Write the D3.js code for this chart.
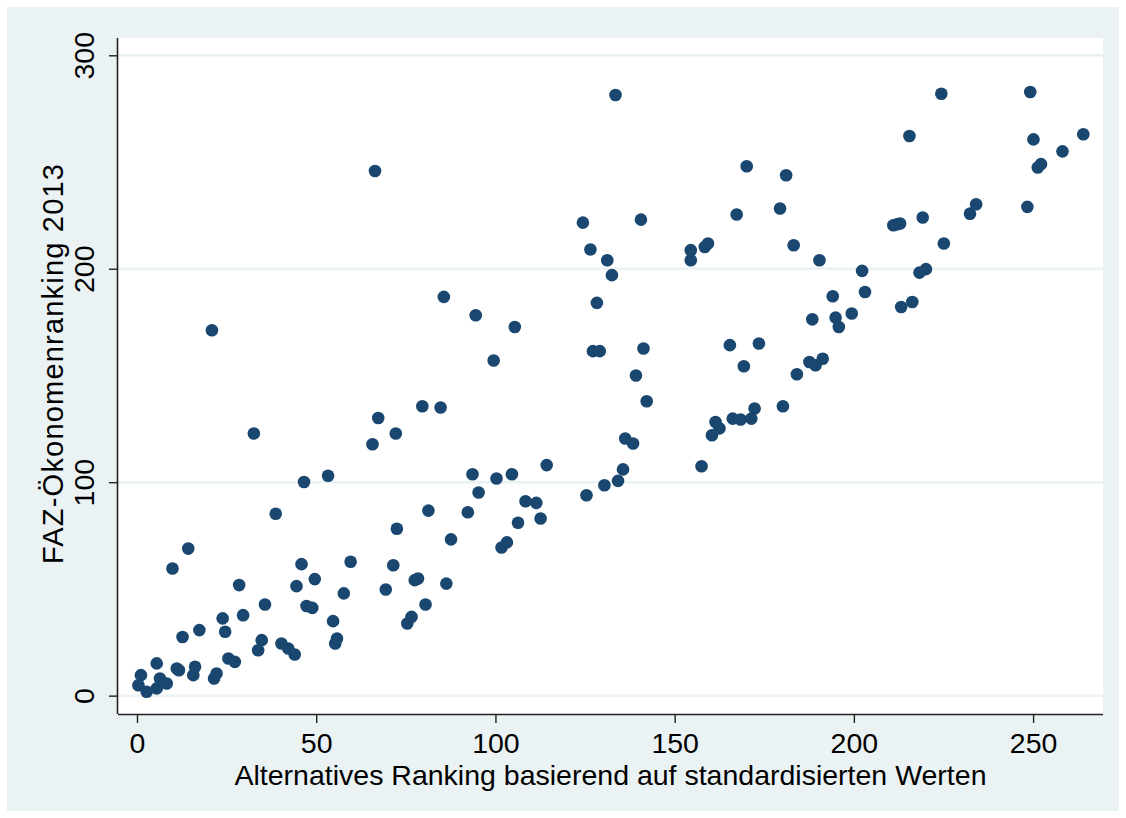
<!DOCTYPE html>
<html>
<head>
<meta charset="utf-8">
<script src="https://cdn.jsdelivr.net/npm/d3@7"></script>
<style>
  html, body { margin: 0; padding: 0; background: #ffffff; }
  svg text { font-family: "Liberation Sans", Arial, sans-serif; fill: #000; }
</style>
</head>
<body>
<div id="chart"></div>
<script>
// --- Scatter: alternative ranking vs FAZ ranking ---

// alternative ranking (x) and FAZ-Ökonomenranking 2013 (y)
const altRank = [
  0.4, 1.1, 2.7, 5.5, 6.4, 8.3, 5.5, 11.1, 11.7, 16.2, 15.7, 22.2, 21.5, 9.9, 12.7, 14.3,
  17.4, 23.9, 24.6, 25.5, 27.3, 28.5, 29.6, 20.9, 32.6, 34.8, 33.8, 35.7, 38.7, 40.3, 42.2,
  44.0, 44.5, 45.9, 46.6, 47.3, 48.9, 49.6, 53.3, 54.7, 55.8, 55.3, 57.7, 59.6, 65.7, 66.4,
  67.3, 69.4, 71.5, 72.2, 72.5, 75.4, 76.6, 77.5, 78.4, 79.6, 80.5, 81.3, 84.7, 85.6, 86.3,
  87.6, 92.3, 93.6, 94.5, 95.3, 99.5, 100.3, 101.7, 103.2, 104.6, 105.4, 106.3, 108.4, 111.4,
  112.6, 114.3, 124.4, 125.4, 126.5, 127.2, 129.1, 128.3, 130.4, 131.2, 132.5, 133.5, 134.2,
  135.6, 136.2, 138.4, 139.2, 140.6, 141.3, 142.2, 154.5, 154.5, 157.5, 158.4, 159.3, 160.4,
  161.4, 162.5, 165.4, 166.2, 167.3, 168.4, 169.3, 170.1, 171.4, 172.3, 173.5, 179.4, 180.2,
  181.1, 183.2, 184.1, 187.6, 189.3, 191.3, 188.4, 190.4, 194.1, 194.9, 195.8, 199.4, 202.3,
  203.1, 211.0, 212.0, 212.9, 213.2, 215.5, 216.3, 218.3, 219.2, 220.1, 224.4, 225.1, 232.4,
  234.1, 248.4, 249.2, 250.1, 251.3, 252.2, 258.2, 264.0
];
const fazRank = [
  4.9, 9.6, 1.8, 3.4, 8.0, 5.7, 15.1, 12.7, 11.9, 13.5, 9.6, 10.4, 8.0, 59.6, 27.5, 68.9,
  30.7, 36.2, 29.9, 17.4, 15.8, 51.8, 37.7, 171.2, 122.8, 26.0, 21.3, 42.7, 85.2, 24.4, 22.1,
  19.3, 51.3, 61.6, 100.1, 42.0, 41.1, 54.6, 103.0, 34.9, 26.8, 24.4, 47.9, 62.7, 117.8, 245.8,
  130.1, 49.7, 61.1, 122.8, 78.2, 33.8, 36.9, 54.1, 54.9, 135.6, 42.7, 86.7, 135.0, 186.8, 52.5,
  73.2, 85.9, 103.7, 178.2, 95.2, 157.0, 101.7, 69.4, 71.8, 103.7, 172.7, 81.0, 91.1, 90.3,
  83.0, 108.0, 221.6, 93.9, 209.0, 161.4, 161.4, 184.0, 98.6, 204.0, 197.0, 281.4, 100.6,
  106.0, 120.5, 118.1, 150.0, 223.0, 162.6, 137.9, 208.7, 204.0, 107.5, 210.2, 211.8, 122.0,
  128.2, 125.2, 164.2, 129.8, 225.4, 129.4, 154.3, 248.0, 129.8, 134.5, 165.0, 228.2, 135.6,
  243.8, 211.0, 150.6, 156.3, 154.8, 157.8, 176.3, 204.0, 187.1, 177.1, 172.7, 179.0, 199.0,
  189.1, 220.4, 220.8, 221.2, 182.1, 262.2, 184.4, 198.2, 224.0, 199.8, 282.0, 211.8, 225.8,
  230.2, 229.0, 282.8, 260.6, 247.4, 249.0, 255.0, 263.0
];

const xTicks = [0, 50, 100, 150, 200, 250];
const yTicks = [0, 100, 200, 300];
const xTitle = "Alternatives Ranking basierend auf standardisierten Werten";
const yTitle = "FAZ-Ökonomenranking 2013";

(function () {
    const W = 1126, H = 818;
    const plot = { left: 118, right: 1103, top: 38, bottom: 714 };
    const markerColor = "#1a476f";
    const bgColor = "#eaf2f3";

    const points = altRank.map((x, i) => ({ x: x, y: fazRank[i] }));

    const svg = d3.select("#chart").append("svg")
        .attr("width", W)
        .attr("height", H);

    // outer graph region
    svg.append("rect")
        .attr("x", 7).attr("y", 7)
        .attr("width", W - 14).attr("height", H - 14)
        .attr("fill", bgColor);

    // plot region
    svg.append("rect")
        .attr("x", plot.left).attr("y", plot.top)
        .attr("width", plot.right - plot.left).attr("height", plot.bottom - plot.top)
        .attr("fill", "#ffffff");

    const x = d3.scaleLinear().domain([-5.3, 269.5]).range([plot.left, plot.right]);
    const y = d3.scaleLinear().domain([-8.6, 308.1]).range([plot.bottom, plot.top]);

    // horizontal grid lines
    svg.append("g")
        .selectAll("line")
        .data(yTicks)
        .join("line")
        .attr("x1", plot.left).attr("x2", plot.right)
        .attr("y1", d => y(d)).attr("y2", d => y(d))
        .attr("stroke", bgColor)
        .attr("stroke-width", 2.5);

    // points
    svg.append("g")
        .selectAll("circle")
        .data(points)
        .join("circle")
        .attr("cx", d => x(d.x))
        .attr("cy", d => y(d.y))
        .attr("r", 6.3)
        .attr("fill", markerColor);

    // x axis
    const xAxis = svg.append("g")
        .attr("transform", `translate(0,${plot.bottom})`)
        .call(d3.axisBottom(x).tickValues(xTicks).tickSize(9).tickPadding(10).tickFormat(d3.format("d")));
    xAxis.select(".domain").attr("d", `M${plot.left},0.5H${plot.right}`).attr("stroke", "#222").attr("stroke-width", 1.6);
    xAxis.selectAll(".tick line").attr("stroke", "#222").attr("stroke-width", 1.4);
    xAxis.selectAll(".tick text").attr("font-size", 28.5).attr("fill", "#000");

    // y axis
    const yAxis = svg.append("g")
        .attr("transform", `translate(${plot.left},0)`)
        .call(d3.axisLeft(y).tickValues(yTicks).tickSize(9).tickFormat(d3.format("d")));
    yAxis.select(".domain").attr("d", `M-0.5,${plot.top}V${plot.bottom}`).attr("stroke", "#222").attr("stroke-width", 1.6);
    yAxis.selectAll(".tick line").attr("stroke", "#222").attr("stroke-width", 1.4);
    yAxis.selectAll(".tick text")
        .attr("font-size", 28.5)
        .attr("fill", "#000")
        .attr("x", null).attr("dy", null)
        .attr("text-anchor", "middle")
        .attr("transform", "translate(-24,0) rotate(-90)");

    // axis titles
    svg.append("text")
        .attr("x", (plot.left + plot.right) / 2)
        .attr("y", 785)
        .attr("text-anchor", "middle")
        .attr("font-size", 28.5)
        .text(xTitle);

    svg.append("text")
        .attr("transform", `translate(63,364) rotate(-90)`)
        .attr("text-anchor", "middle")
        .attr("font-size", 29)
        .attr("textLength", 400)
        .attr("lengthAdjust", "spacing")
        .text(yTitle);
})();
</script>
</body>
</html>
